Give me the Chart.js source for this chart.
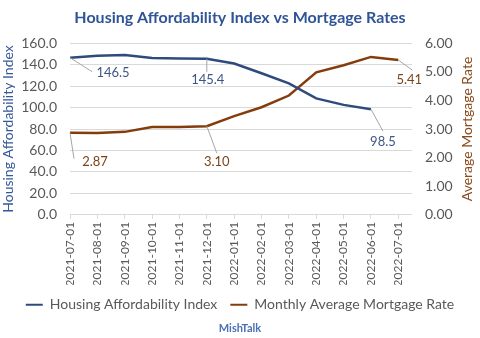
<!DOCTYPE html>
<html lang="en">
<head>
<meta charset="UTF-8" />
<title>Housing Affordability Index vs Mortgage Rates</title>
<script src="https://cdn.jsdelivr.net/npm/chart.js"></script>
<style>
  html, body { margin: 0; padding: 0; background: #fff; }
  #wrap { width: 480px; height: 338px; }
</style>
</head>
<body>
<div id="wrap"><canvas id="chart"></canvas></div>
<script>
  const months = ['2021-07-01', '2021-08-01', '2021-09-01', '2021-10-01', '2021-11-01', '2021-12-01',
    '2022-01-01', '2022-02-01', '2022-03-01', '2022-04-01', '2022-05-01', '2022-06-01', '2022-07-01'];
  const affordability = [146.5, 148.2, 149.0, 146.3, 145.8, 145.4, 141.0, 132.0, 122.5, 108.5, 102.5, 98.5, null];
  const mortgageRate = [2.87, 2.86, 2.90, 3.07, 3.07, 3.10, 3.45, 3.76, 4.17, 4.98, 5.23, 5.52, 5.41];

  const BLUE = '#2f4b7e';
  const BROWN = '#843c0c';
  const FONT = 'Lato, "Open Sans", sans-serif';

  function toPoints(values) {
    return values.map((v, i) => ({ x: i, y: v })).filter(p => p.y !== null);
  }

  // callout labels: dataset, index, text offset, leader end offset
  const callouts = [
    { ds: 0, i: 0, dx: 43, dy: 15, ex: 22, ey: 14, color: '#3e5687', digits: 1 },
    { ds: 0, i: 5, dx: 1, dy: 21, ex: 0, ey: 13, color: '#3e5687', digits: 1 },
    { ds: 0, i: 11, dx: 12, dy: 33, ex: 12, ey: 22, color: '#3e5687', digits: 1 },
    { ds: 1, i: 0, dx: 25, dy: 29, ex: 4, ey: 26, color: '#7a4418', digits: 2 },
    { ds: 1, i: 5, dx: 10, dy: 36, ex: 10, ey: 27, color: '#7a4418', digits: 2 },
    { ds: 1, i: 12, dx: 11, dy: 20, ex: 14, ey: 10, color: '#7a4418', digits: 2 }
  ];

  const calloutPlugin = {
    id: 'callouts',
    afterDatasetsDraw(chart) {
      const ctx = chart.ctx;
      ctx.save();
      ctx.font = '13px ' + FONT;
      ctx.textAlign = 'center';
      ctx.textBaseline = 'middle';
      callouts.forEach(c => {
        const data = chart.data.datasets[c.ds].data;
        const idx = data.findIndex(p => p.x === c.i);
        const pt = chart.getDatasetMeta(c.ds).data[idx];
        if (!pt) return;
        ctx.strokeStyle = '#a6a6a6';
        ctx.lineWidth = 1;
        ctx.beginPath();
        ctx.moveTo(pt.x, pt.y);
        ctx.lineTo(pt.x + c.ex, pt.y + c.ey);
        ctx.stroke();
        ctx.fillStyle = c.color;
        ctx.fillText(data[idx].y.toFixed(c.digits), pt.x + c.dx, pt.y + c.dy);
      });
      ctx.restore();
    }
  };

  // Excel-style axis titles (both read bottom to top)
  const axisTitlePlugin = {
    id: 'axisTitles',
    afterDraw(chart) {
      const ctx = chart.ctx;
      const area = chart.chartArea;
      const cy = (area.top + area.bottom) / 2;
      [[8, '#34589a', 'Housing Affordability Index'], [467, '#8a4a1c', 'Average Mortgage Rate']].forEach(([x, color, text]) => {
        ctx.save();
        ctx.font = '14px ' + FONT;
        ctx.textAlign = 'center';
        ctx.textBaseline = 'middle';
        ctx.fillStyle = color;
        ctx.translate(x, cy);
        ctx.rotate(-Math.PI / 2);
        ctx.fillText(text, 0, 0);
        ctx.restore();
      });
    }
  };

  new Chart(document.getElementById('chart'), {
    type: 'line',
    data: {
      datasets: [
        {
          label: 'Housing Affordability Index',
          data: toPoints(affordability),
          borderColor: BLUE,
          backgroundColor: BLUE,
          borderWidth: 2.5,
          pointRadius: 0,
          tension: 0,
          yAxisID: 'y'
        },
        {
          label: 'Monthly Average Mortgage Rate',
          data: toPoints(mortgageRate),
          borderColor: BROWN,
          backgroundColor: BROWN,
          borderWidth: 2.5,
          pointRadius: 0,
          tension: 0,
          yAxisID: 'y1'
        }
      ]
    },
    options: {
      responsive: true,
      maintainAspectRatio: false,
      animation: false,
      layout: { padding: 0 },
      plugins: {
        title: {
          display: true,
          text: 'Housing Affordability Index vs Mortgage Rates',
          color: '#2f5597',
          font: { family: FONT, size: 16, weight: 'bold' },
          padding: { top: 8, bottom: 16 }
        },
        subtitle: {
          display: true,
          position: 'bottom',
          text: 'MishTalk',
          color: '#4a6fb5',
          font: { family: FONT, size: 11, weight: 'bold' },
          padding: { top: 0, bottom: 3 }
        },
        legend: {
          position: 'bottom',
          labels: {
            usePointStyle: true,
            pointStyle: 'line',
            pointStyleWidth: 17,
            boxHeight: 13,
            color: '#595959',
            font: { family: FONT, size: 14 },
            padding: 13,
            generateLabels: chart => Chart.defaults.plugins.legend.labels.generateLabels(chart)
              .map(l => Object.assign(l, { lineWidth: 2 }))
          }
        },
        tooltip: { enabled: false }
      },
      scales: {
        x: {
          type: 'linear',
          min: 0,
          max: 12.5,
          border: { display: false },
          grid: { drawOnChartArea: false, drawTicks: true, tickLength: 4, color: '#d9d9d9' },
          ticks: {
            stepSize: 1,
            includeBounds: false,
            autoSkip: false,
            maxRotation: 90,
            minRotation: 90,
            padding: 3,
            color: '#595959',
            font: { family: FONT, size: 12 },
            callback: v => months[v] || ''
          },
          afterFit: s => { s.height = 70; }
        },
        y: {
          position: 'left',
          min: 0,
          max: 160,
          border: { display: false },
          grid: { color: '#d9d9d9', drawTicks: false },
          ticks: {
            stepSize: 20,
            padding: 13,
            color: '#595959',
            font: { family: FONT, size: 14 },
            callback: v => v.toFixed(1)
          },
          afterFit: s => { s.width = 70; }
        },
        y1: {
          position: 'right',
          min: 0,
          max: 6,
          border: { display: false },
          grid: { drawOnChartArea: false, drawTicks: false },
          ticks: {
            stepSize: 1,
            padding: 13,
            color: '#595959',
            font: { family: FONT, size: 14 },
            callback: v => v.toFixed(2)
          },
          afterFit: s => { s.width = 68; }
        }
      }
    },
    plugins: [calloutPlugin, axisTitlePlugin]
  });
</script>
</body>
</html>
